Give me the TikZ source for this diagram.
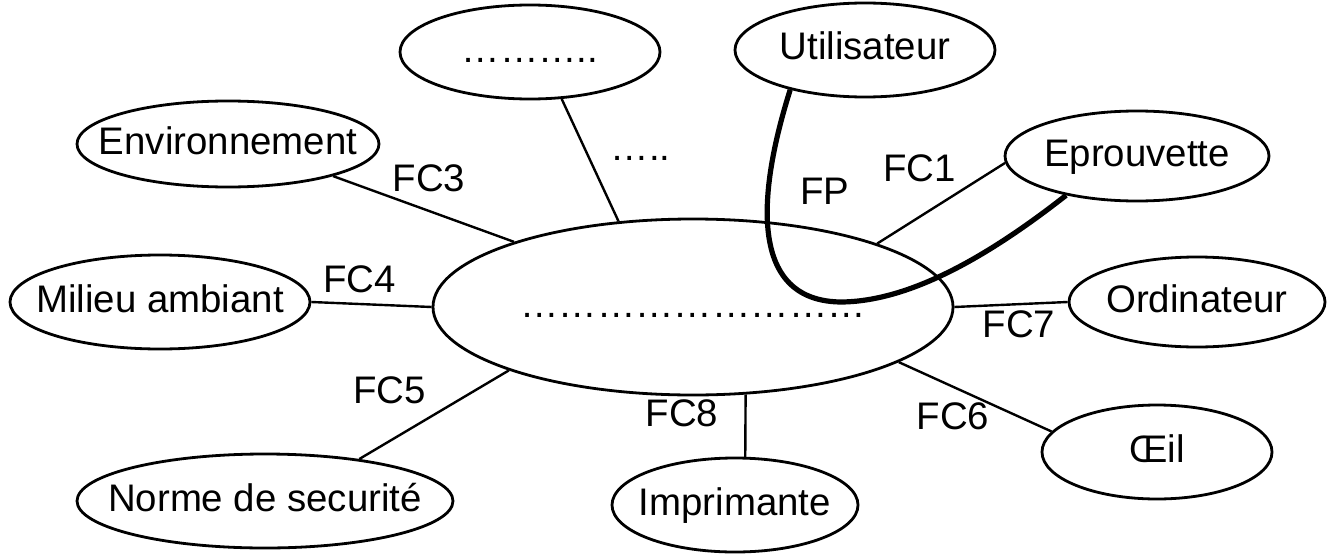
\documentclass[tikz,border=0pt]{standalone}
\usepackage{fontspec}
\setmainfont{Liberation Sans}
\usetikzlibrary{shapes.geometric}

\newcommand{\txtbulle}[1]{\makebox[0pt]{#1}}

\tikzset{
	bulle/.style={ellipse, draw, line width=1.4pt, inner sep=0pt},
	lien/.style={line width=1.2pt},
	fp/.style={line width=2.6pt},
	lbl/.style={inner sep=0pt}
}

\begin{document}
\begin{tikzpicture}[x=0.5pt, y=-0.5pt, font=\fontsize{19.2}{23}\selectfont,
		every node/.style={text height=14pt, text depth=4pt}]
		\useasboundingbox (0,0) rectangle (1336,556);
		% le systeme au centre
		\node[bulle, minimum width=260pt, minimum height=88pt] (sys) at (693,307) {\txtbulle{………………………}};
		% elements du milieu exterieur
		\node[bulle, minimum width=130pt, minimum height=47pt] (top) at (530,52) {\txtbulle{………..}};
		\node[bulle, minimum width=130pt, minimum height=47pt] (util) at (865,50) {\txtbulle{Utilisateur}};
		\node[bulle, minimum width=151pt, minimum height=43pt] (env) at (228,144) {\txtbulle{Environnement}};
		\node[bulle, minimum width=132pt, minimum height=45pt] (eprou) at (1137,156) {\txtbulle{Eprouvette}};
		\node[bulle, minimum width=150pt, minimum height=47pt] (milieu) at (160,302) {\txtbulle{Milieu ambiant}};
		\node[bulle, minimum width=128pt, minimum height=45pt] (ordi) at (1197,302) {\txtbulle{Ordinateur}};
		\node[bulle, minimum width=115pt, minimum height=47pt] (oeil) at (1157,452) {\txtbulle{Œil}};
		\node[bulle, minimum width=123pt, minimum height=47pt] (imp) at (735,505) {\txtbulle{Imprimante}};
		\node[bulle, minimum width=188pt, minimum height=47pt] (norme) at (265,501) {\txtbulle{Norme de securité}};
		% fonction principale
		\draw[fp] (util.208.7) .. controls (768,160) and (735,300) .. node[lbl, pos=0.4, right=15pt] {FP} (840,302)
			.. controls (910,302) and (990,255) .. (eprou.209.7);
		% fonctions contraintes
		\draw[lien] (sys.160.2) -- node[lbl, above=5pt, pos=0.47] {FC3} (env.-17.9);
		\draw[lien] (sys.131.8) -- node[lbl, right=12pt, pos=0.58] {…..} (top.-56.6);
		\draw[lien] (eprou.183) -- node[lbl, above=13pt, pos=0.67] {FC1} (sys.19.2);
		\draw[lien] (milieu.east) -- node[lbl, above=1pt, pos=0.4] {FC4} (sys.west);
		\draw[lien] (sys.east) -- node[lbl, below=2pt, pos=0.57] {FC7} (ordi.west);
		\draw[lien] (sys.-15.1) -- node[lbl, below=7pt, pos=0.355] {FC6} (oeil.169);
		\draw[lien] (sys.-59.7) -- node[lbl, left=13pt, pos=0.35] {FC8} (imp.78);
		\draw[lien] (sys.199.1) -- node[lbl, above left=2pt, pos=0.52] {FC5} (norme.24);
	\end{tikzpicture}
\end{document}
